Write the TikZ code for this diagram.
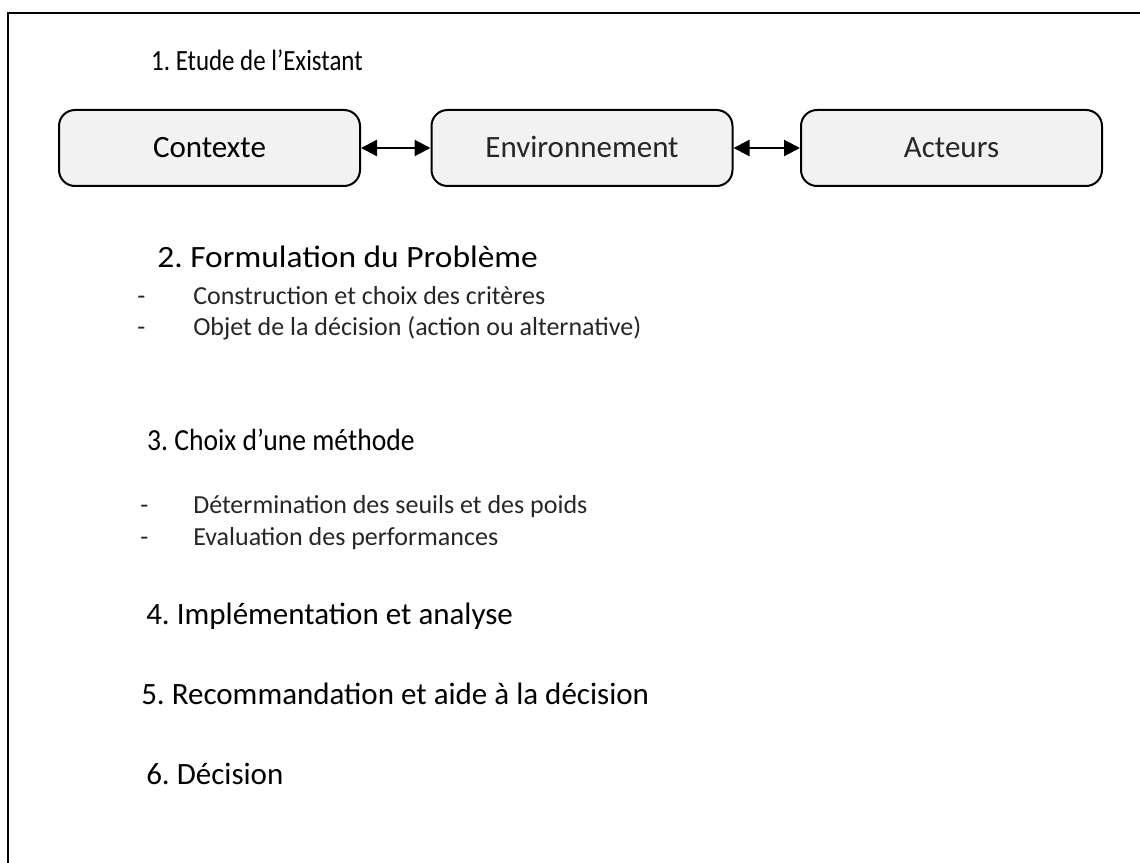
\documentclass[tikz,border=0pt]{standalone}
\usepackage{fontspec}
\setmainfont{Carlito}
\frenchspacing
\usetikzlibrary{arrows.meta}
\definecolor{boxfill}{HTML}{F2F2F2}
\definecolor{lighttext}{HTML}{262626}
\tikzset{
  heading/.style={anchor=base west, inner sep=0pt,
    font=\fontsize{23.25}{28}\selectfont},
  item/.style={anchor=base west, inner sep=0pt, text=lighttext,
    font=\fontsize{19.5}{23}\selectfont},
  stagebox/.style={draw=black, fill=boxfill, line width=1.5pt,
    rounded corners=12pt, minimum width=225.75pt, minimum height=57pt,
    inner sep=0pt, text height=15pt, text depth=0pt,
    font=\fontsize{23.25}{28}\selectfont},
  lightlabel/.style={text=lighttext},
  link/.style={line width=1.8pt,
    {Triangle[length=12pt,width=12pt]}-{Triangle[length=12pt,width=12pt]}},
  frame/.style={line width=1.5pt, line cap=rect}
}
\begin{document}
\begin{tikzpicture}[x=0.75pt,y=-0.75pt]
\useasboundingbox (0,0) rectangle (1140,863);

% outer frame (open towards the right and bottom)
\coordinate (fbot) at (8,866);
\coordinate (fcorner) at (8,13);
\coordinate (fright) at (1143,13);
\draw[frame] (fbot) -- (fcorner) -- (fright);

% 1. study of the existing situation
\node[heading, font=\fontsize{22}{26}\selectfont, xscale=0.85] (h1) at (151,71) {1. Etude de l’Existant};
\node[stagebox] (ctx) at (209.5,148) {Contexte};
\node[stagebox, lightlabel] (env) at (582,148) {Environnement};
\node[stagebox, lightlabel] (act) at (951.5,148) {Acteurs};
\draw[link] (ctx.east) -- (env.west);
\draw[link] (env.east) -- (act.west);

% 2. problem formulation
\node[heading, xscale=1.08] (h2) at (157,268) {2. Formulation du Problème};
\node[item] (d21) at (137,305) {-};
\node[item] (i21) at (193,305) {Construction et choix des critères};
\node[item] (d22) at (137,335) {-};
\node[item] (i22) at (193,335) {Objet de la décision (action ou alternative)};

% 3. choice of a method
\node[heading, font=\fontsize{23}{27}\selectfont, xscale=0.9] (h3) at (147,450) {3. Choix d’une méthode};
\node[item] (d31) at (140,513) {-};
\node[item] (i31) at (193,513) {Détermination des seuils et des poids};
\node[item] (d32) at (140,545) {-};
\node[item] (i32) at (193,545) {Evaluation des performances};

% 4. to 6.
\node[heading] (h4) at (146,624) {4. Implémentation et analyse};
\node[heading] (h5) at (141,704) {5. Recommandation et aide à la décision};
\node[heading] (h6) at (146,784) {6. Décision};
\end{tikzpicture}
\end{document}
